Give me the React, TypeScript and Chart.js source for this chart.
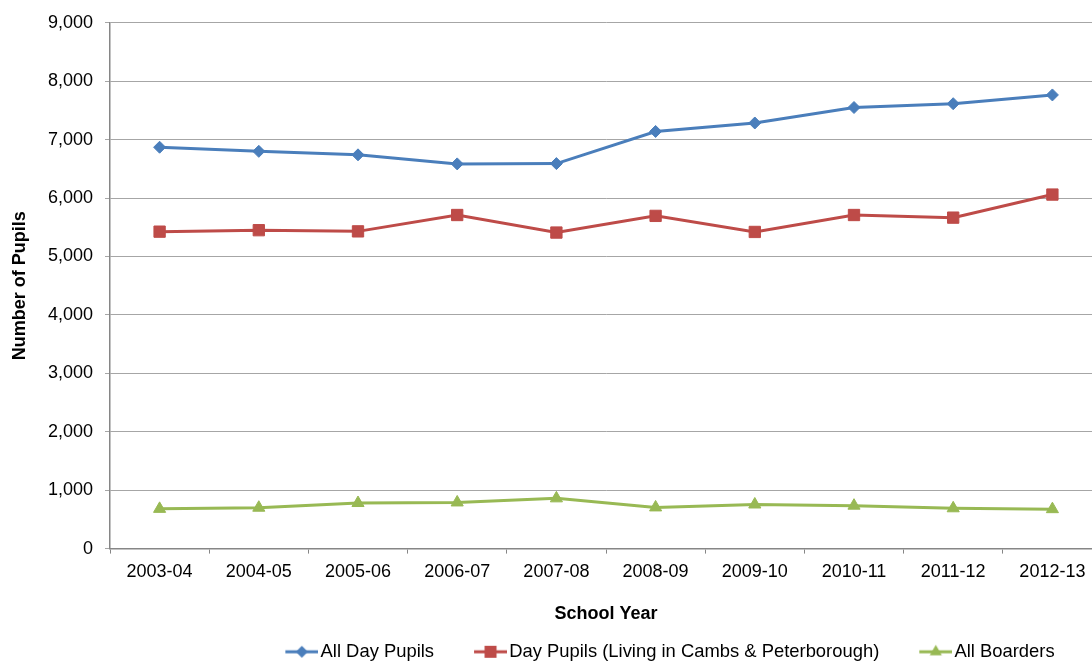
import React, { useEffect, useRef } from 'react';
import { Chart, registerables } from 'chart.js';

Chart.register(...registerables);

const categories = ['2003-04', '2004-05', '2005-06', '2006-07', '2007-08', '2008-09', '2009-10', '2010-11', '2011-12', '2012-13'];
const allDayPupils = [6870, 6800, 6740, 6585, 6590, 7140, 7285, 7550, 7615, 7765];
const dayPupilsCambs = [5425, 5450, 5430, 5710, 5410, 5695, 5420, 5710, 5665, 6060];
const allBoarders = [680, 700, 780, 790, 860, 705, 755, 735, 690, 675];
const seriesNames = ['All Day Pupils', 'Day Pupils (Living in Cambs & Peterborough)', 'All Boarders'];
const seriesColors = ['#4A7EBB', '#BE4B48', '#98B954'];
const yMin = 0;
const yMax = 9000;
const yStep = 1000;
const xTitle = 'School Year';
const yTitle = 'Number of Pupils';

const FONT = "'Liberation Sans', Arial, sans-serif";

function makeLegendIcon(color: string, kind: string): HTMLCanvasElement {
  const c = document.createElement('canvas');
  c.width = 70;
  c.height = 20;
  const ctx = c.getContext('2d')!;
  ctx.strokeStyle = color;
  ctx.fillStyle = color;
  ctx.lineWidth = 3;
  ctx.beginPath();
  ctx.moveTo(37, 10);
  ctx.lineTo(70, 10);
  ctx.stroke();
  const cx = 53.5;
  const cy = 10;
  ctx.beginPath();
  if (kind === 'rectRot') {
    const r = 6;
    ctx.moveTo(cx, cy - r);
    ctx.lineTo(cx + r, cy);
    ctx.lineTo(cx, cy + r);
    ctx.lineTo(cx - r, cy);
  } else if (kind === 'rect') {
    const s = 6;
    ctx.rect(cx - s, cy - s, 2 * s, 2 * s);
  } else {
    const r = 7;
    ctx.moveTo(cx, cy - r);
    ctx.lineTo(cx + r * 0.866, cy + r * 0.5);
    ctx.lineTo(cx - r * 0.866, cy + r * 0.5);
  }
  ctx.closePath();
  ctx.fill();
  return c;
}

export default function App() {
  const canvasRef = useRef<HTMLCanvasElement | null>(null);

  useEffect(() => {
    if (!canvasRef.current) return;
    const styles = ['rectRot', 'rect', 'triangle'];
    const radii = [6, 8, 7];
    const icons = styles.map((s, i) => makeLegendIcon(seriesColors[i], s));
    const data = [allDayPupils, dayPupilsCambs, allBoarders];

    const chart = new Chart(canvasRef.current, {
      type: 'line',
      data: {
        labels: categories,
        datasets: data.map((d, i) => ({
          label: seriesNames[i],
          data: d,
          borderColor: seriesColors[i],
          backgroundColor: seriesColors[i],
          borderWidth: 3,
          pointStyle: styles[i] as any,
          pointRadius: radii[i],
          pointBorderWidth: 1,
          pointBackgroundColor: seriesColors[i],
          pointBorderColor: seriesColors[i],
          tension: 0,
          fill: false,
          yAxisID: 'y',
        })),
      },
      options: {
        animation: false,
        responsive: false,
        maintainAspectRatio: false,
        devicePixelRatio: 1,
        layout: { padding: { top: 21, left: 0, right: 0, bottom: 0 } },
        plugins: {
          tooltip: { enabled: false },
          legend: {
            display: true,
            position: 'bottom',
            labels: {
              usePointStyle: true,
              pointStyleWidth: 56,
              padding: 10,
              color: '#000',
              font: { family: FONT, size: 18.4 },
              generateLabels: (ch: any) => {
                const base = Chart.defaults.plugins.legend.labels.generateLabels(ch);
                return base.map((item: any, i: number) => ({ ...item, pointStyle: icons[i] }));
              },
            },
          },
        },
        scales: {
          x: {
            type: 'category',
            offset: true,
            afterFit: (s: any) => { s.height = 84; },
            grid: {
              display: true,
              offset: true,
              drawOnChartArea: false,
              drawTicks: true,
              tickLength: 5,
              color: '#868686',
            },
            border: { display: true, color: '#868686', width: 1.5 },
            ticks: {
              color: '#000',
              font: { family: FONT, size: 18 },
              padding: 8,
              maxRotation: 0,
              autoSkip: false,
            },
            title: {
              display: true,
              text: xTitle,
              color: '#000',
              font: { family: FONT, size: 18, weight: 'bold' },
              padding: { top: 0, bottom: 8 },
            },
          },
          y: {
            type: 'linear',
            position: 'left',
            min: yMin,
            max: yMax,
            afterFit: (s: any) => { s.width = 110; },
            grid: {
              color: '#A6A6A6',
              lineWidth: 1,
              drawTicks: true,
              tickLength: 5,
            },
            border: { display: true, color: '#868686', width: 1.5 },
            ticks: {
              stepSize: yStep,
              color: '#000',
              font: { family: FONT, size: 18 },
              padding: 12,
              callback: (v: any) => Number(v).toLocaleString('en-US'),
            },
            title: {
              display: true,
              text: yTitle,
              color: '#000',
              font: { family: FONT, size: 18, weight: 'bold' },
              padding: { top: 9, bottom: 0 },
            },
          },
          spacer: {
            type: 'linear',
            position: 'right',
            display: true,
            afterFit: (s: any) => { s.width = 208; },
            grid: { display: false, drawTicks: false },
            border: { display: false },
            ticks: { display: false },
          },
        },
      } as any,
    });
    return () => chart.destroy();
  }, []);

  return (
    <div style={{ position: 'fixed', top: 0, left: 0, width: 1092, height: 662, overflow: 'hidden', background: '#fff' }}>
      <canvas ref={canvasRef} width={1310} height={671} style={{ width: 1310, height: 671, display: 'block' }} />
    </div>
  );
}
